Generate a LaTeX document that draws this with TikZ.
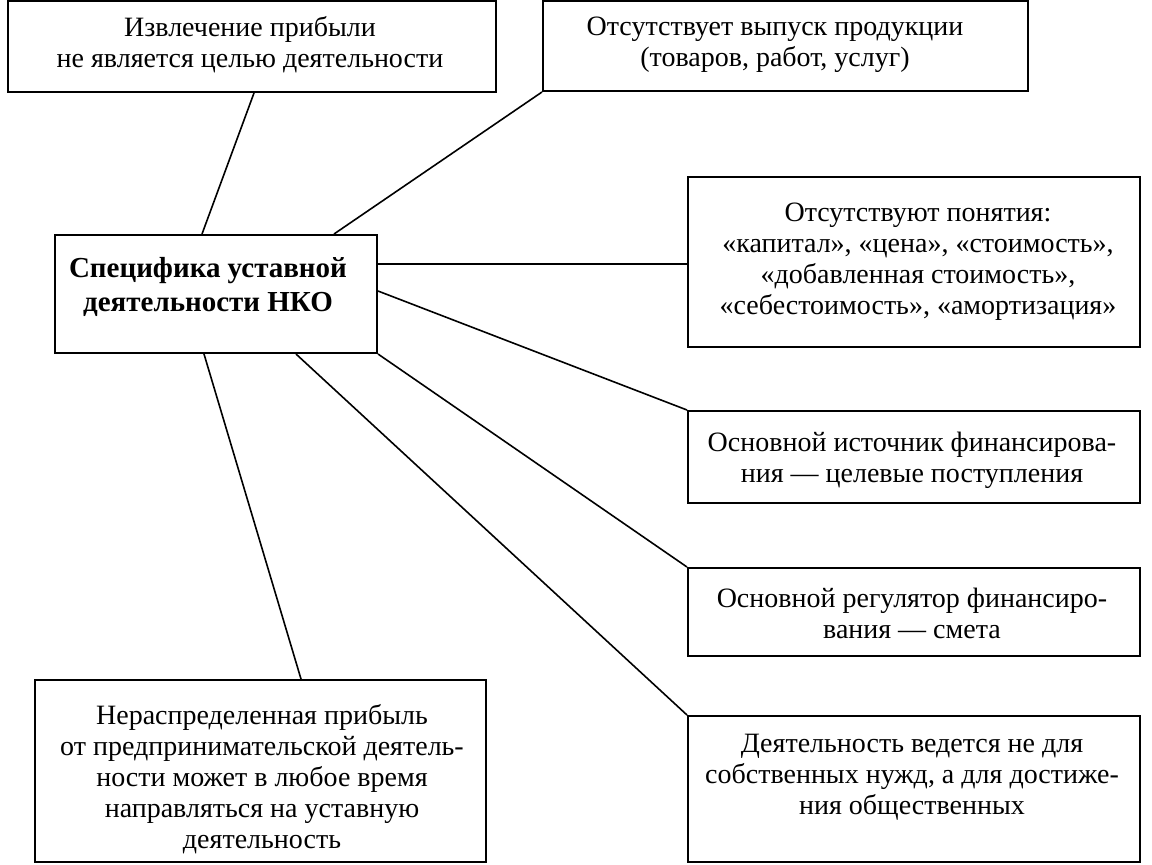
\documentclass[tikz,border=0pt]{standalone}
\usepackage{fontspec}
\setmainfont{Liberation Serif}
\usetikzlibrary{fit,calc}
\begin{document}
\begin{tikzpicture}[x=0.5pt,y=-0.5pt,
  box/.style={draw,line width=1pt,inner sep=0pt,rectangle},
  txt/.style={align=center,font=\fontsize{14}{15.5}\selectfont,inner sep=0pt},
  link/.style={line width=0.8pt}]
\useasboundingbox (0,0) rectangle (1152,864);
% boxes
\node[box,fit={(8,1) (496,92)}] (b1) {};
\node[box,fit={(543,1) (1028,91)}] (b2) {};
\node[box,fit={(55,235) (377,353)}] (c) {};
\node[box,fit={(688,177) (1140,347)}] (b4) {};
\node[box,fit={(688,411) (1140,503)}] (b5) {};
\node[box,fit={(688,568) (1140,656)}] (b6) {};
\node[box,fit={(35,680) (486,862)}] (b7) {};
\node[box,fit={(688,716) (1140,862)}] (b8) {};
% texts
\node[txt] (t1) at (250,45) {Извлечение прибыли\\не является целью деятельности};
\node[txt] (t2) at (775,45) {Отсутствует выпуск продукции\\(товаров, работ, услуг)};
\node[txt,font=\fontsize{14.5}{17}\selectfont\bfseries] (tc) at (208,287) {Специфика уставной\\деятельности НКО};
\node[txt] (t4) at (918,262) {Отсутствуют понятия:\\«капитал», «цена», «стоимость»,\\«добавленная стоимость»,\\«себестоимость», «амортизация»};
\node[txt] (t5) at (912,460) {Основной источник финансирова-\\ния — целевые поступления};
\node[txt] (t6) at (912,613) {Основной регулятор финансиро-\\вания — смета};
\node[txt] (t7) at (262,779) {Нераспределенная прибыль\\от предпринимательской деятель-\\ности может в любое время\\направляться на уставную\\деятельность};
\node[txt] (t8) at (912,777) {Деятельность ведется не для\\собственных нужд, а для достиже-\\ния общественных};
% connectors
\coordinate (c1) at ([xshift=74pt]c.north west);
\coordinate (e1) at ([xshift=123.5pt]b1.south west);
\coordinate (c2) at ([xshift=140pt]c.north west);
\coordinate (c3) at ([yshift=-15pt]c.north east);
\coordinate (c4) at ([yshift=-28.5pt]c.north east);
\coordinate (c6) at ([xshift=121pt]c.south west);
\coordinate (c7) at ([xshift=75pt]c.south west);
\coordinate (e7) at ([xshift=133.5pt]b7.north west);
\draw[link] (c1) -- (e1);
\draw[link] (c2) -- (b2.south west);
\draw[link] (c3) -- (c3 -| b4.west);
\draw[link] (c4) -- (b5.north west);
\draw[link] (c.south east) -- (b6.north west);
\draw[link] (c6) -- (b8.north west);
\draw[link] (c7) -- (e7);
\end{tikzpicture}
\end{document}
